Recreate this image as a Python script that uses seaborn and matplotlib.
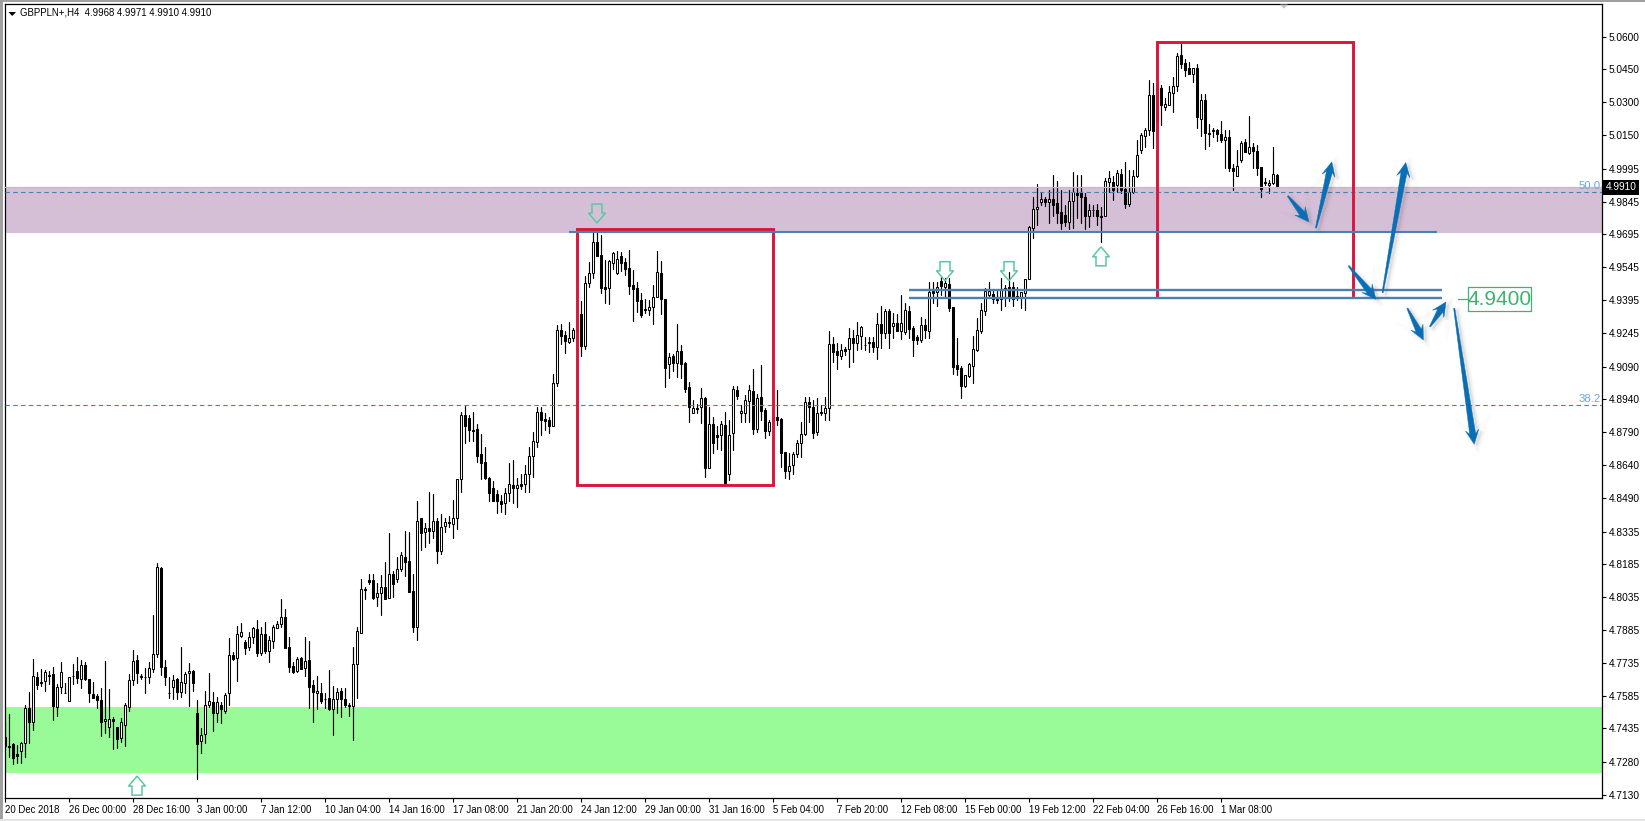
import numpy as np
import pandas as pd
import matplotlib
matplotlib.use("Agg")
import matplotlib.pyplot as plt
from matplotlib.patches import Polygon, Rectangle
import seaborn as sns

# GBPPLN H4 candles, quotes in 0.0001 PLN (47397 = 4.7397)
highs = [
    47465,47500,47366,47358,47374,47542,47600,47752,47694,47705,
    47702,47699,47717,47638,47738,47644,47671,47729,47760,47748,
    47740,47659,47645,47592,47618,47745,47615,47485,47442,47484,
    47549,47684,47792,47770,47684,47709,47740,47954,48190,48172,
    47748,47668,47679,47664,47806,47694,47732,47702,47565,47435,
    47607,47687,47603,47580,47554,47595,47848,47786,47903,47915,
    47839,47877,47897,47931,47897,47920,47857,47908,47926,48025,
    47980,47851,47740,47763,47760,47854,47835,47656,47674,47641,
    47595,47702,47630,47621,47618,47618,47552,47809,47897,48117,
    48083,48141,48141,48099,48137,48198,48327,48154,48217,48240,
    48337,48331,48139,48475,48395,48376,48516,48505,48398,48415,
    48395,48406,48479,48574,48884,48910,48869,48884,48828,48782,
    48721,48587,48565,48525,48502,48536,48647,48662,48579,48598,
    48640,48723,48792,48907,48904,48876,48861,49056,49281,49284,
    49253,49296,49265,49334,49388,49505,49568,49716,49708,49693,
    49578,49578,49616,49618,49613,49586,49624,49533,49479,49429,
    49400,49395,49464,49620,49574,49400,49151,49148,49284,49189,
    49110,49018,48937,48919,48994,48950,48904,48861,48818,48841,
    48881,48846,49000,49002,48915,48960,49006,49079,48963,49098,
    48899,48846,48876,48983,48854,48701,48693,48701,48754,48838,
    48953,48953,48937,48945,48914,48950,49253,49227,49200,49192,
    49181,49268,49258,49296,49278,49227,49227,49227,49334,49369,
    49354,49354,49334,49331,49418,49380,49369,49276,49235,49316,
    49307,49479,49479,49479,49506,49494,49494,49363,49220,49093,
    49052,49108,49230,49314,49380,49448,49479,49444,49436,49494,
    49464,49525,49479,49456,49433,49490,49734,49865,49926,49888,
    49868,49896,49967,49941,49896,49830,49896,49980,49967,49967,
    49883,49833,49830,49833,49822,49952,49986,49960,49990,49993,
    50028,49990,49990,50127,50158,50181,50402,50387,50387,50379,
    50318,50372,50414,50524,50573,50497,50483,50457,50475,50336,
    50336,50201,50184,50179,50216,50173,50173,50016,50082,50123,
    50132,50237,50115,50105,50004,49952,49944,50097,49971,
]
body_tops = [
    47397,47355,47363,47316,47369,47526,47526,47674,47670,47646,
    47693,47679,47682,47622,47691,47598,47668,47675,47697,47723,
    47723,47659,47590,47581,47565,47476,47476,47476,47439,47462,
    47540,47655,47742,47746,47672,47671,47709,47774,48172,48169,
    47717,47598,47656,47659,47645,47685,47696,47696,47505,47403,
    47540,47558,47554,47554,47542,47587,47769,47771,47865,47874,
    47828,47851,47893,47888,47865,47865,47839,47897,47911,47943,
    47943,47806,47720,47751,47755,47742,47746,47632,47604,47595,
    47571,47572,47568,47600,47606,47571,47541,47728,47879,48071,
    48073,48112,48112,48053,48083,48083,48139,48139,48162,48226,
    48221,48199,48061,48382,48395,48350,48350,48383,48383,48354,
    48377,48379,48395,48574,48869,48869,48853,48799,48803,48689,
    48653,48580,48533,48505,48475,48510,48551,48546,48546,48551,
    48597,48681,48748,48881,48881,48850,48846,49014,49258,49258,
    49235,49220,49258,49258,49330,49471,49517,49659,49659,49601,
    49453,49574,49609,49581,49597,49568,49540,49464,49449,49395,
    49353,49362,49407,49522,49519,49400,49133,49139,49162,49162,
    49107,48995,48899,48899,48945,48945,48826,48826,48776,48826,
    48821,48776,48988,48982,48886,48937,48982,48979,48945,48951,
    48892,48835,48861,48861,48850,48701,48635,48689,48739,48782,
    48927,48928,48904,48876,48884,48899,49192,49192,49162,49166,
    49171,49220,49220,49233,49270,49190,49204,49201,49284,49284,
    49345,49345,49288,49288,49291,49348,49345,49265,49227,49281,
    49281,49433,49436,49456,49482,49471,49468,49363,49096,49085,
    49052,49102,49169,49256,49348,49436,49436,49421,49400,49444,
    49448,49453,49453,49413,49430,49490,49728,49810,49822,49856,
    49856,49856,49856,49838,49796,49784,49847,49888,49883,49885,
    49865,49806,49807,49806,49780,49938,49952,49937,49975,49972,
    49902,49891,49963,50057,50149,50173,50333,50333,50364,50365,
    50292,50347,50375,50512,50517,50478,50457,50457,50457,50310,
    50310,50158,50173,50173,50155,50141,50141,50000,50007,50112,
    50117,50094,50095,50077,50004,49934,49932,49970,49968,
]
body_bottoms = [
    47354,47351,47301,47310,47333,47366,47462,47465,47635,47640,
    47653,47676,47539,47534,47622,47595,47561,47672,47664,47662,
    47659,47598,47575,47566,47462,47467,47439,47467,47385,47389,
    47449,47534,47655,47690,47669,47668,47668,47708,47774,47717,
    47668,47595,47626,47600,47603,47644,47687,47644,47365,47378,
    47407,47540,47504,47504,47525,47516,47595,47754,47755,47859,
    47804,47809,47851,47781,47781,47790,47790,47833,47896,47911,
    47804,47717,47694,47697,47708,47713,47626,47603,47595,47561,
    47569,47523,47525,47568,47571,47543,47538,47536,47728,47873,
    48070,48103,48031,48038,48053,48028,48029,48093,48116,48162,
    48197,48060,47899,47899,48330,48331,48339,48339,48247,48247,
    48362,48376,48372,48398,48574,48820,48800,48797,48683,48650,
    48582,48510,48475,48475,48463,48464,48510,48536,48536,48545,
    48551,48597,48681,48747,48846,48843,48820,48820,49017,49232,
    49207,49204,49220,49255,49186,49186,49471,49520,49598,49452,
    49447,49449,49566,49517,49566,49537,49461,49446,49392,49326,
    49350,49349,49362,49407,49398,49085,49101,49105,49108,49104,
    48989,48904,48879,48896,48904,48625,48628,48739,48770,48777,
    48556,48597,48785,48957,48876,48879,48933,48806,48806,48889,
    48797,48797,48846,48846,48696,48614,48614,48640,48690,48739,
    48780,48907,48788,48789,48880,48879,48899,49159,49143,49140,
    49162,49169,49200,49200,49232,49187,49200,49181,49181,49242,
    49242,49242,49278,49253,49253,49250,49262,49212,49212,49210,
    49256,49255,49429,49433,49459,49456,49360,49090,49079,49001,
    49001,49047,49094,49166,49255,49346,49418,49398,49396,49398,
    49441,49403,49398,49410,49410,49426,49490,49726,49810,49845,
    49841,49841,49830,49792,49746,49751,49751,49847,49877,49868,
    49781,49781,49805,49777,49774,49780,49935,49896,49922,49899,
    49836,49836,49891,49961,50082,50143,50173,50166,50211,50289,
    50280,50289,50344,50372,50475,50448,50431,50431,50230,50225,
    50161,50155,50166,50156,50127,50129,49998,49987,49960,50036,
    50074,50069,50076,49999,49905,49928,49923,49928,49910,
]
lows = [
    47343,47305,47270,47278,47275,47305,47369,47427,47613,47630,
    47607,47636,47473,47493,47595,47595,47561,47638,47641,47618,
    47656,47557,47572,47526,47401,47412,47394,47342,47343,47374,
    47355,47516,47635,47641,47659,47595,47641,47694,47763,47679,
    47635,47572,47568,47568,47577,47595,47539,47607,47201,47323,
    47369,47534,47424,47465,47461,47504,47542,47748,47653,47854,
    47775,47793,47824,47766,47771,47778,47740,47804,47893,47900,
    47804,47694,47687,47693,47708,47674,47529,47465,47525,47549,
    47526,47519,47404,47504,47488,47534,47493,47381,47575,47873,
    48027,48096,48025,47995,47954,48025,48029,48034,48105,48156,
    48133,48060,47877,47838,48250,48263,48284,48308,48192,48232,
    48334,48354,48307,48347,48518,48739,48751,48751,48655,48577,
    48574,48475,48475,48421,48423,48417,48476,48467,48449,48531,
    48514,48517,48584,48724,48777,48800,48785,48820,49001,49194,
    49154,49200,49209,49243,49140,49171,49456,49497,49598,49429,
    49383,49377,49537,49514,49528,49510,49423,49301,49342,49316,
    49334,49326,49285,49407,49331,48998,49037,49070,49041,49040,
    48976,48838,48876,48876,48834,48583,48625,48696,48713,48709,
    48553,48571,48709,48942,48838,48838,48838,48780,48789,48846,
    48765,48777,48828,48823,48632,48582,48574,48599,48678,48678,
    48777,48838,48762,48777,48869,48846,48846,49113,49079,49125,
    49143,49090,49110,49166,49171,49166,49159,49159,49125,49177,
    49223,49177,49220,49253,49217,49238,49223,49140,49192,49204,
    49223,49223,49380,49369,49418,49410,49346,49056,49052,48948,
    48998,49041,49017,49163,49242,49326,49410,49380,49383,49349,
    49369,49392,49369,49395,49357,49349,49490,49680,49738,49830,
    49827,49746,49781,49746,49719,49735,49720,49723,49769,49746,
    49719,49731,49780,49738,49662,49777,49891,49853,49891,49886,
    49818,49827,49886,49957,50069,50097,50150,50092,50169,50196,
    50265,50285,50257,50349,50456,50422,50431,50394,50184,50147,
    50088,50100,50140,50124,50120,50001,49987,49898,49960,50025,
    50071,50063,49999,49967,49868,49921,49883,49926,49910,
]
# W = bullish (hollow), B = bearish (filled), ten candles per chunk
candle_kind = (
    "BBBBWWBWBB" "WBBWWBWBBW" "BBBBBWWBBW" "WWWBBBWWWB" "BBWBWWWBBW"
    "WWBWBWWBWW" "BWWBWBWWWW" "BBBWBWBBWB" "BBWWBBBWWW" "BBBWWBWBWW"
    "BBBWBWBWBW" "WBWWWBBBBB" "BBBBBWWBWB" "WWWWBBBWWB" "BWWWBWWWBB"
    "BWWWBBBBBB" "BWWWBBWBWB" "BBWBWBWBBW" "BWWBWWWBWB" "BWBBBBWWWW"
    "WBBWBWWBBW" "BWBWWBBBWB" "WBWBWWBBBW" "BWBWBWBBBB" "WWWWWWWBBW"
    "BBBBWWWWWW" "BWBBBBWWBB" "BWBBBWWBWB" "BWWWWWWBBB" "WWWWBBBWBW"
    "BBBBBWBBWW" "BWBBBBWWB"
)

# x axis labels, one every 16 bars
time_labels = [
    "20 Dec 2018", "26 Dec 00:00", "28 Dec 16:00", "3 Jan 00:00", "7 Jan 12:00",
    "10 Jan 04:00", "14 Jan 16:00", "17 Jan 08:00", "21 Jan 20:00", "24 Jan 12:00",
    "29 Jan 00:00", "31 Jan 16:00", "5 Feb 04:00", "7 Feb 20:00", "12 Feb 08:00",
    "15 Feb 00:00", "19 Feb 12:00", "22 Feb 04:00", "26 Feb 16:00", "1 Mar 08:00",
]
price_ticks = [
    5.0600, 5.0450, 5.0300, 5.0150, 4.9995, 4.9845, 4.9695, 4.9545, 4.9395, 4.9245, 4.9090, 4.8940,
    4.8790, 4.8640, 4.8490, 4.8335, 4.8185, 4.8035, 4.7885, 4.7735, 4.7585, 4.7435, 4.7280, 4.7130,
]
last_price = 4.9910
fib_50 = 4.9888
fib_38 = 4.8913
level_main = 4.9706
level_upper = 4.9442
level_lower = 4.9406
target_price = 4.9398

# (tail bar, tail price, tip bar, tip price)
blue_arrows = [
    (320.7, 4.9871, 326.0, 4.9752),
    (327.75, 4.9724, 331.7, 5.0027),
    (344.4, 4.9428, 350.2, 5.0024),
    (335.9, 4.9551, 342.75, 4.9398),
    (350.6, 4.9357, 354.6, 4.9212),
    (356.25, 4.9273, 360.25, 4.9386),
    (362.3, 4.9357, 367.3, 4.8735),
]
# (bar, tip price, direction)
signal_arrows = [
    (33, 4.7216, 1),
    (148, 4.9747, -1),
    (235, 4.9483, -1),
    (251, 4.9483, -1),
    (274, 4.9638, 1),
]

W, H = 1645, 821
BLUE = "#4682B4"
RED = "#DC143C"
GREEN = "#3CB371"
ARROW = "#0A6EB4"

sns.set_theme(style="white")
plt.rcParams["font.family"] = ["Liberation Sans", "DejaVu Sans"]

df = pd.DataFrame({
    "bar": np.arange(len(highs)),
    "high": np.array(highs) / 1e4,
    "top": np.array(body_tops) / 1e4,
    "bottom": np.array(body_bottoms) / 1e4,
    "low": np.array(lows) / 1e4,
    "kind": list(candle_kind),
})
wicks = df.melt(id_vars="bar", value_vars=["high", "low"], value_name="price")

fig = plt.figure(figsize=(W / 100, H / 100), dpi=100, facecolor="white")
ax = fig.add_axes([4.5 / W, (H - 798) / H, 1597.5 / W, 793.5 / H], facecolor="white")
ax.set_xlim(-0.125, 399.25)
ax.set_ylim(4.7116, 5.0747)

# zones
ax.axhspan(4.9703, 4.9906, color="#D5BFD7", lw=0, zorder=1)
ax.axhspan(4.7232, 4.7532, color="#98FB98", lw=0, zorder=1)

# candles
sns.lineplot(data=wicks, x="bar", y="price", units="bar", estimator=None, color="black",
             lw=0.85, legend=False, ax=ax, zorder=2, errorbar=None)
fill = ["white" if k == "W" else "black" for k in df["kind"]]
ax.bar(df["bar"], df["top"] - df["bottom"], bottom=df["bottom"], width=0.5, color=fill,
       edgecolor="black", linewidth=0.75, zorder=3)

# price and fibo levels
ax.axhline(last_price, color="#BEBEBE", lw=0.9, zorder=4)
for lvl, txt in [(fib_50, "50.0"), (fib_38, "38.2")]:
    ax.axhline(lvl, color=BLUE, lw=0.8, ls=(0, (4, 3)), zorder=4)
    ax.text(398.9, lvl + 0.0006, txt, color="#6FA5D6", fontsize=8.2, ha="right", va="bottom", zorder=5)

# red boxes, the second one sits on the lower level line so it has no own bottom edge
ax.add_patch(Rectangle((143, 4.8548), 191.9 - 143, 4.9720 - 4.8548, fill=False, ec=RED, lw=2.1,
                       zorder=4.5, joinstyle="miter"))
ax.plot([287.9, 287.9, 337, 337], [level_lower, 5.0576, 5.0576, level_lower], color=RED, lw=2.1,
        zorder=4.5, solid_joinstyle="miter", solid_capstyle="butt")

ax.plot([141, 358], [level_main, level_main], color=BLUE, lw=1.5, zorder=5, solid_capstyle="butt")
for lvl in (level_upper, level_lower):
    ax.plot([226, 359.25], [lvl, lvl], color=BLUE, lw=1.7, zorder=5, solid_capstyle="butt")


def px_arrow(x0, y0, x1, y1, head_len=13.0, head_w=13.5, shaft_w=6.0):
    # tapered arrow outline built in pixels so the head keeps its shape
    p0 = ax.transData.transform((x0, y0))
    p1 = ax.transData.transform((x1, y1))
    d = p1 - p0
    u = d / np.hypot(*d)
    n = np.array([-u[1], u[0]])
    neck = p1 - u * head_len * 0.8
    barb = p1 - u * head_len * 1.1
    pts = [p0 - n * 0.6, neck - n * shaft_w / 2, barb - n * head_w / 2, p1,
           barb + n * head_w / 2, neck + n * shaft_w / 2, p0 + n * 0.6]
    return np.array(pts)


inv = ax.transData.inverted()
for x0, y0, x1, y1 in blue_arrows:
    pix = px_arrow(x0, y0, x1, y1)
    # soft shadow, a few growing outlines shifted down right
    for lw, a in [(5.5, 0.025), (3.5, 0.04), (1.5, 0.05)]:
        ax.add_patch(Polygon(inv.transform(pix + [3, -2]), closed=True, fc="#606060", ec="#606060", lw=lw,
                             alpha=a, zorder=7))
    ax.add_patch(Polygon(inv.transform(pix), closed=True, fc=ARROW, ec=ARROW, lw=0.3, zorder=8))

# hollow signal arrows
bw, sw = 8.5 / 4, 5 / 4
for bar, tip, d in signal_arrows:
    hl, tl = 10 / 2185, 19 / 2185
    shape = np.array([(0, 0), (bw, hl), (sw, hl), (sw, tl), (-sw, tl), (-sw, hl), (-bw, hl)])
    verts = np.column_stack((bar + shape[:, 0], tip - d * shape[:, 1]))
    ax.add_patch(Polygon(verts, closed=True, fill=False, ec="#5CC8A0", lw=1.1, zorder=6))

# 4.9400 price label
ax.plot([363.25, 365.75], [target_price, target_price], color=GREEN, lw=0.9, zorder=6)
ax.add_patch(Rectangle((365.75, 4.9343), 15.65, 0.0110, fc="white", ec=GREEN, lw=0.9, zorder=6))
ax.text(373.6, target_price, "4.9400", color=GREEN, fontsize=15, ha="center", va="center", zorder=7)

# axes furniture
for s in ax.spines.values():
    s.set_visible(True)
    s.set_color("black")
    s.set_linewidth(0.9)
ax.set_xlabel("")
ax.set_ylabel("")
ax.yaxis.tick_right()
ax.set_yticks(price_ticks)
ax.set_yticklabels([f"{p:.4f}" for p in price_ticks])
ax.set_xticks(np.arange(len(time_labels)) * 16)
ax.set_xticklabels(time_labels, ha="left")
ax.tick_params(axis="y", right=True, length=3, width=0.8, pad=2, labelsize=7.3, colors="black")
ax.tick_params(axis="x", bottom=True, length=3, width=0.8, pad=2, labelsize=6.9, colors="black")

# current price flag
ax.text(1.0025, last_price, f"{last_price:.4f}", transform=ax.get_yaxis_transform(), color="white", fontsize=7.3,
        va="center", ha="left", zorder=9, clip_on=False,
        bbox=dict(boxstyle="square,pad=0.25", fc="black", ec="black", lw=0))

# header
ax.add_patch(Polygon([(0.0025, 0.9905), (0.0072, 0.9905), (0.0048, 0.9855)], closed=True, fc="black", ec="none",
                     transform=ax.transAxes, zorder=9))
ax.text(0.0098, 0.9905, "GBPPLN+,H4  4.9968 4.9971 4.9910 4.9910", transform=ax.transAxes, fontsize=6.9,
        color="black", va="center", ha="left", zorder=9)
ax.add_patch(Polygon([(0.7985, 1.0), (0.8033, 1.0), (0.8009, 0.9948)], closed=True, fc="#C0C0C0", ec="none",
                     transform=ax.transAxes, zorder=9))

# window frame
fig.add_artist(Rectangle((0, 0), 2.5 / W, 1, transform=fig.transFigure, fc="#A0A0A0", ec="none"))
fig.add_artist(Rectangle((0, 1 - 2.5 / H), 1, 2.5 / H, transform=fig.transFigure, fc="#A0A0A0", ec="none"))
fig.add_artist(Rectangle((0, 0), 1, 2.5 / H, transform=fig.transFigure, fc="#E4E4E4", ec="none"))

fig.savefig("out.png", dpi=100)
